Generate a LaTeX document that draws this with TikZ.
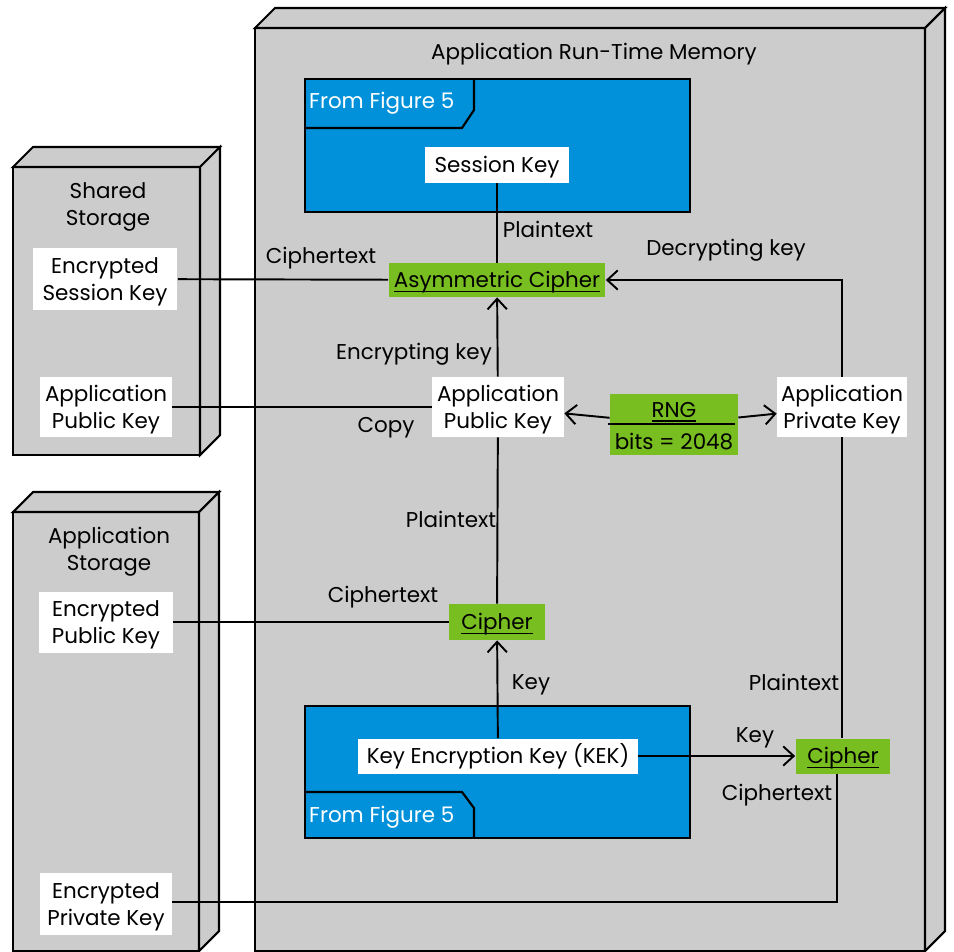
\documentclass[tikz,border=0pt]{standalone}
\usepackage{fontspec}
\setmainfont{Poppins}
\usetikzlibrary{arrows.meta}
\definecolor{boxgray}{RGB}{204,204,204}
\definecolor{figblue}{RGB}{0,145,218}
\definecolor{opgreen}{RGB}{120,190,32}
\newcommand{\opname}[1]{\setbox0\hbox{#1}\rlap{\rule[-2.4pt]{\wd0}{0.8pt}}\box0}

\begin{document}
\begin{tikzpicture}[x=0.02cm, y=-0.02cm,
	every node/.style={font=\fontsize{12.2}{15.3}\selectfont, align=center},
	keybox/.style={fill=white, inner sep=0pt, text height=10pt, text depth=1pt},
	twoline/.style={text height=25.3pt, text depth=1pt},
	opbox/.style={fill=opgreen, inner sep=0pt, text height=10pt, text depth=1pt},
	wire/.style={line width=1.1pt},
	arr/.style={wire, -{Straight Barb[length=6pt, width=11pt, line width=1.1pt]}},
	frame/.style={line width=1.2pt, draw=black}]
	\useasboundingbox (0,0) rectangle (954,951);
	\clip (0,0) rectangle (954,951);
	
	%run-time memory
	\filldraw[frame, fill=boxgray] (255,28) rectangle (925,951);
	\filldraw[frame, fill=boxgray] (255,28) -- (275,8) -- (945,8) -- (925,28) -- cycle;
	\filldraw[frame, fill=boxgray] (925,28) -- (945,8) -- (945,931) -- (925,951) -- cycle;
	\node (memlbl) at (594,54) {Application Run-Time Memory};
	
	%shared storage
	\filldraw[frame, fill=boxgray] (13,167) rectangle (200,455);
	\filldraw[frame, fill=boxgray] (13,167) -- (33,147) -- (220,147) -- (200,167) -- cycle;
	\filldraw[frame, fill=boxgray] (200,167) -- (220,147) -- (220,435) -- (200,455) -- cycle;
	\node (sharedlbl) at (108,207) {Shared\\Storage};
	
	%application storage
	\filldraw[frame, fill=boxgray] (13,512) rectangle (199,951);
	\filldraw[frame, fill=boxgray] (13,512) -- (33,492) -- (219,492) -- (199,512) -- cycle;
	\filldraw[frame, fill=boxgray] (199,512) -- (219,492) -- (219,931) -- (199,951) -- cycle;
	\node (appstlbl) at (109,552) {Application\\Storage};
	
	%figure 5 (top)
	\filldraw[frame, fill=figblue] (305,79) rectangle (690,212);
	\draw[frame] (305,128) -- (462,128) -- (474,110) -- (474,79);
	\node[white, anchor=west] (figtop) at (303,103) {From Figure 5};
	%figure 5 (bottom)
	\filldraw[frame, fill=figblue] (305,706) rectangle (690,838);
	\draw[frame] (305,792) -- (462,792) -- (474,808) -- (474,838);
	\node[white, anchor=west] (figbot) at (303,817) {From Figure 5};
	
	%keys
	\node[keybox, minimum width=2.9cm, minimum height=0.72cm] (sesskey) at (497,165) {Session Key};
	\node[keybox, twoline, minimum width=2.9cm, minimum height=1.24cm] (encsess) at (105,279) {Encrypted\\Session Key};
	\node[keybox, twoline, minimum width=2.64cm, minimum height=1.2cm] (pubshared) at (106,407) {Application\\Public Key};
	\node[keybox, twoline, minimum width=2.64cm, minimum height=1.2cm] (pubkey) at (498,407) {Application\\Public Key};
	\node[keybox, twoline, minimum width=2.6cm, minimum height=1.2cm] (privkey) at (842,407) {Application\\Private Key};
	\node[keybox, twoline, minimum width=2.68cm, minimum height=1.22cm] (encpub) at (106,622) {Encrypted\\Public Key};
	\node[keybox, twoline, minimum width=2.64cm, minimum height=1.24cm] (encpriv) at (106,904) {Encrypted\\Private Key};
	\node[keybox, minimum width=5.6cm, minimum height=0.7cm] (kek) at (498,756) {Key Encryption Key (KEK)};
	
	%operations
	\node[opbox, minimum width=4.34cm, minimum height=0.68cm] (asym) at (497,280) {\opname{Asymmetric Cipher}};
	\node[opbox, minimum width=1.92cm, minimum height=0.72cm] (cipherA) at (497,622) {\opname{Cipher}};
	\node[opbox, minimum width=1.9cm, minimum height=0.7cm] (cipherB) at (843,756) {\opname{Cipher}};
	\node[opbox, minimum width=2.56cm, minimum height=1.22cm] (rng) at (674,424) {};
	\node (rngtop) at (674,412) {\opname{RNG}};
	\node (rngbot) at (674,442) {bits = 2048};
	\draw[wire] ([xshift=-1pt]rng.west) -- ([xshift=-2pt]rng.east);
	
	%connectors
	\draw[wire] (sesskey) -- (asym);
	\draw[wire] (encsess) -- (asym);
	\draw[arr] (privkey.north) |- (asym.east);
	\draw[arr] (pubkey) -- (asym);
	\draw[wire] (pubshared) -- (pubkey);
	\draw[arr] (rng) -- (pubkey);
	\draw[arr] (rng) -- (privkey);
	\draw[wire] (privkey.south) -- (privkey.south |- cipherB.north);
	\draw[wire] ([xshift=-0.12cm]cipherB.south) |- ([yshift=0.04cm]encpriv.east);
	\draw[arr] (kek) -- (cipherB);
	\draw[arr] (kek) -- (cipherA);
	\draw[wire] (cipherA) -- (pubkey);
	\draw[wire] (encpub) -- (cipherA);
	
	%labels
	\node (l1) at (548,229) {Plaintext};
	\node (l2) at (321,258) {Ciphertext};
	\node (l3) at (726,250) {Decrypting key};
	\node (l4) at (414,354) {Encrypting key};
	\node (l5) at (386,428) {Copy};
	\node (l6) at (451,519) {Plaintext};
	\node (l7) at (383,597) {Ciphertext};
	\node (l8) at (531,685) {Key};
	\node (l9) at (794,682) {Plaintext};
	\node (l10) at (755,738) {Key};
	\node (l11) at (777,795) {Ciphertext};
\end{tikzpicture}
\end{document}
